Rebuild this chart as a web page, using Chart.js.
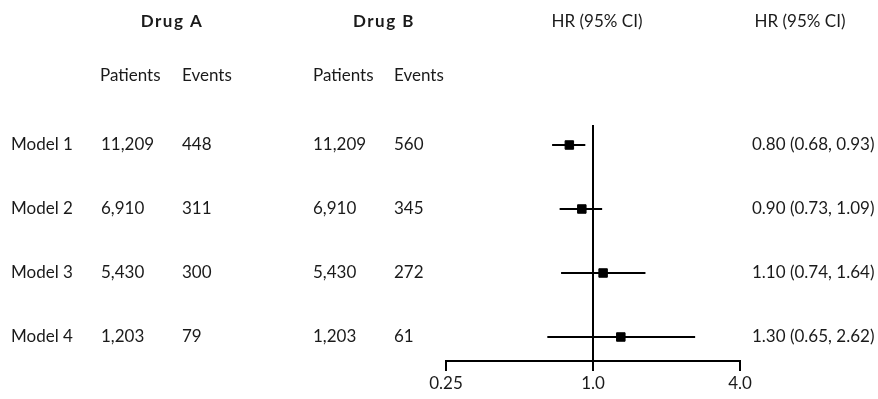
<!DOCTYPE html>
<html>
<head>
<meta charset="utf-8">
<script src="https://cdn.jsdelivr.net/npm/chart.js@4"></script>
<style>
  html, body { margin: 0; padding: 0; background: #fff; }
  #wrap { width: 878px; height: 399px; }
</style>
</head>
<body>
<div id="wrap"><canvas id="forest" width="878" height="399"></canvas></div>
<script>
var models = ['Model 1', 'Model 2', 'Model 3', 'Model 4'];
var patientsA = ['11,209', '6,910', '5,430', '1,203'];
var eventsA = [448, 311, 300, 79];
var patientsB = ['11,209', '6,910', '5,430', '1,203'];
var eventsB = [560, 345, 272, 61];
var hr = [0.80, 0.90, 1.10, 1.30];
var ciLow = [0.68, 0.73, 0.74, 0.65];
var ciHigh = [0.93, 1.09, 1.64, 2.62];
var xTicks = [0.25, 1.0, 4.0];

var FONT = 'Lato, "Open Sans", sans-serif';
var INK = '#1a1a1a';

var datasets = [];
for (let i in models) {
    datasets.push({
        type: 'line',
        data: [{x: ciLow[i], y: +i + 1}, {x: ciHigh[i], y: +i + 1}],
        borderColor: '#000',
        borderWidth: 2,
        pointRadius: 0,
        showLine: true
    });
}
datasets.push({
    type: 'scatter',
    data: hr.map(function (v, i) { return {x: v, y: i + 1}; }),
    pointStyle: 'rect',
    pointRadius: 6,
    backgroundColor: '#000',
    borderColor: '#000',
    borderWidth: 1
});

// vertical reference line at HR = 1
var refLine = {
    id: 'refLine',
    beforeDatasetsDraw: function (chart) {
        var c = chart.ctx, a = chart.chartArea;
        var x = chart.scales.x.getPixelForValue(1);
        c.save();
        c.strokeStyle = '#000';
        c.lineWidth = 2;
        c.beginPath();
        c.moveTo(x, a.top);
        c.lineTo(x, a.bottom);
        c.stroke();
        c.restore();
    }
};

// table text around the plot
var table = {
    id: 'table',
    afterDraw: function (chart) {
        var c = chart.ctx, y = chart.scales.y;
        c.save();
        c.fillStyle = INK;
        c.textBaseline = 'middle';

        c.font = 'bold 17px ' + FONT;
        c.letterSpacing = '1.5px';
        c.textAlign = 'center';
        c.fillText('Drug A', 172, 22);
        c.fillText('Drug B', 384, 22);
        c.letterSpacing = '0px';

        c.font = '17px ' + FONT;
        c.fillText('HR (95% CI)', 597, 22);
        c.fillText('HR (95% CI)', 800, 22);

        c.textAlign = 'left';
        c.fillText('Patients', 100, 76);
        c.fillText('Events', 182, 76);
        c.fillText('Patients', 313, 76);
        c.fillText('Events', 394, 76);

        for (let i in models) {
            var py = y.getPixelForValue(+i + 1);
            c.fillText(models[i], 11, py);
            c.fillText(patientsA[i], 101, py);
            c.fillText(String(eventsA[i]), 182, py);
            c.fillText(patientsB[i], 313, py);
            c.fillText(String(eventsB[i]), 394, py);
            c.fillText(hr[i].toFixed(2) + ' (' + ciLow[i].toFixed(2) + ', ' + ciHigh[i].toFixed(2) + ')', 752, py);
        }
        c.restore();
    }
};

var ctx = document.getElementById('forest').getContext('2d');
var forest = new Chart(ctx, {
    type: 'scatter',
    data: { datasets: datasets },
    options: {
        responsive: false,
        animation: false,
        layout: {
            autoPadding: false,
            padding: { left: 446, right: 138, top: 125, bottom: 0 }
        },
        plugins: {
            legend: { display: false },
            tooltip: { enabled: false }
        },
        scales: {
            x: {
                type: 'logarithmic',
                min: 0.25,
                max: 4,
                afterBuildTicks: function (scale) {
                    scale.ticks = xTicks.map(function (v) { return {value: v}; });
                },
                afterFit: function (scale) { scale.height = 38; },
                ticks: {
                    autoSkip: false,
                    maxRotation: 0,
                    padding: 2,
                    color: INK,
                    font: { family: FONT, size: 17 },
                    callback: function (v) { return v < 1 ? String(v) : v.toFixed(1); }
                },
                grid: {
                    drawOnChartArea: false,
                    drawTicks: true,
                    tickLength: 10,
                    color: '#000',
                    lineWidth: 2
                },
                border: { display: true, color: '#000', width: 2 }
            },
            y: {
                type: 'linear',
                reverse: true,
                min: 0.6875,
                max: 4.375,
                display: false
            }
        }
    },
    plugins: [refLine, table]
});
</script>
</body>
</html>
